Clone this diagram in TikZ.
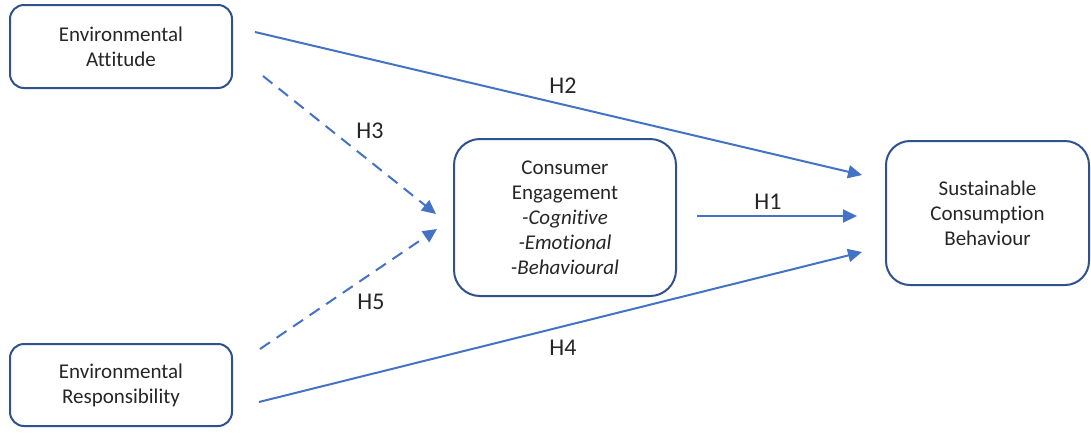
\documentclass[tikz,border=0pt]{standalone}
\usepackage{fontspec}
\setmainfont[Ligatures=NoCommon]{Carlito}
\usetikzlibrary{arrows.meta}
\definecolor{boxline}{HTML}{2F528F}
\definecolor{arrowblue}{HTML}{4472C4}
\definecolor{txt}{HTML}{262626}
\begin{document}
\begin{tikzpicture}[x=1pt,y=-1pt,
  box/.style={draw=boxline, line width=2pt, fill=white, align=center,
    text=txt, font=\fontsize{21}{25}\selectfont, inner sep=0pt},
  link/.style={draw=arrowblue, line width=2pt,
    -{Triangle[length=14pt,width=13pt]}},
  dashlink/.style={link, dash pattern=on 12pt off 8pt},
  hyp/.style={text=txt, font=\fontsize{24}{28}\selectfont, inner sep=0pt}]
  \useasboundingbox[fill=white] (0,0) rectangle (1091,432);

  % construct boxes
  \node[box, minimum width=222pt, minimum height=83pt, rounded corners=14pt]
    (ea) at (121,46.5) {Environmental\\Attitude};
  \node[box, minimum width=222pt, minimum height=82pt, rounded corners=14pt]
    (er) at (121,385) {Environmental\\Responsibility};
  \node[box, minimum width=222pt, minimum height=157pt, rounded corners=26pt]
    (ce) at (565,217.5) {Consumer\\Engagement\\\textit{-Cognitive}\\\textit{-Emotional}\\\textit{-Behavioural}};
  \node[box, minimum width=203pt, minimum height=144pt, rounded corners=24pt]
    (scb) at (987.5,213) {Sustainable\\Consumption\\Behaviour};

  % path end points (the arrows stop short of the boxes)
  \coordinate (h2s) at (255,32);
  \coordinate (h2e) at (862,175);
  \coordinate (h1s) at (697,216);
  \coordinate (h1e) at (857,216);
  \coordinate (h4s) at (259,402);
  \coordinate (h4e) at (862,252);
  \coordinate (h3s) at (263,76);
  \coordinate (h3e) at (436,214);
  \coordinate (h5s) at (260,349);
  \coordinate (h5e) at (437,229);

  % hypothesised paths
  \draw[link] (h2s) -- (h2e);
  \draw[link] (h1s) -- (h1e);
  \draw[link] (h4s) -- (h4e);
  \draw[dashlink] (h3s) -- (h3e);
  \draw[dashlink] (h5s) -- (h5e);

  % hypothesis labels
  \node[hyp] (l2) at (563,86) {H2};
  \node[hyp] (l3) at (370,131) {H3};
  \node[hyp] (l1) at (768,202) {H1};
  \node[hyp] (l5) at (371,302) {H5};
  \node[hyp] (l4) at (563,348) {H4};
\end{tikzpicture}
\end{document}
